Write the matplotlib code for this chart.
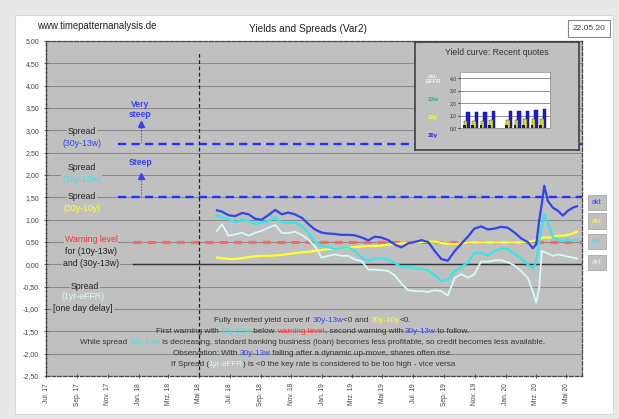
import matplotlib
matplotlib.use("Agg")
import matplotlib.pyplot as plt
import matplotlib.dates as mdates
import matplotlib.transforms as mtransforms
from matplotlib.patches import Rectangle
from matplotlib.ticker import MultipleLocator, FuncFormatter
import pandas as pd

plt.rcParams['font.family'] = ['Liberation Sans', 'DejaVu Sans']

# values (approx. every two weeks)
dates = [
    "2018-06-06", "2018-06-16", "2018-06-29", "2018-07-12", "2018-07-26", "2018-08-08", "2018-08-21",
    "2018-09-03", "2018-09-16", "2018-09-30", "2018-10-13", "2018-10-26", "2018-11-08", "2018-11-22",
    "2018-12-05", "2018-12-18", "2018-12-31", "2019-01-13", "2019-01-27", "2019-02-09", "2019-02-22",
    "2019-03-07", "2019-03-21", "2019-04-03", "2019-04-16", "2019-04-29", "2019-05-13", "2019-05-26",
    "2019-06-08", "2019-06-21", "2019-07-04", "2019-07-18", "2019-07-31", "2019-08-13", "2019-08-26",
    "2019-09-08", "2019-09-22", "2019-10-05", "2019-10-18", "2019-10-31", "2019-11-13", "2019-11-27",
    "2019-12-10", "2019-12-23", "2020-01-05", "2020-01-18", "2020-02-01", "2020-02-14", "2020-02-24",
    "2020-03-02", "2020-03-08", "2020-03-13", "2020-03-18", "2020-03-25", "2020-04-04", "2020-04-14",
    "2020-04-24", "2020-05-04", "2020-05-14", "2020-05-22",
]
spread_30y_13w = [
    1.21, 1.18, 1.10, 1.08, 1.15, 1.12, 1.02, 1.00, 1.10, 1.22,
    1.12, 1.16, 1.12, 1.04, 0.90, 0.78, 0.71, 0.69, 0.68, 0.66,
    0.66, 0.65, 0.60, 0.54, 0.62, 0.60, 0.54, 0.44, 0.38, 0.47,
    0.50, 0.54, 0.50, 0.30, 0.12, 0.08, 0.30, 0.46, 0.62, 0.80,
    0.85, 0.78, 0.80, 0.84, 0.82, 0.72, 0.58, 0.50, 0.36, 0.45,
    1.00, 1.35, 1.76, 1.42, 1.27, 1.20, 1.09, 1.20, 1.27, 1.30,
]
spread_10y_13w = [
    1.09, 1.05, 1.01, 0.94, 1.01, 0.97, 0.90, 0.94, 0.97, 1.05,
    0.94, 0.93, 0.94, 0.85, 0.70, 0.50, 0.41, 0.38, 0.35, 0.37,
    0.38, 0.30, 0.15, 0.08, 0.13, 0.13, 0.11, 0.03, -0.06, -0.06,
    -0.08, -0.10, -0.13, -0.24, -0.38, -0.35, -0.15, -0.06, 0.04, 0.25,
    0.26, 0.20, 0.30, 0.36, 0.34, 0.24, 0.13, 0.00, -0.10, 0.05,
    0.55, 0.85, 1.12, 0.94, 0.60, 0.56, 0.52, 0.56, 0.52, 0.56,
]
spread_30y_10y = [
    0.15, 0.14, 0.12, 0.12, 0.14, 0.16, 0.18, 0.19, 0.19, 0.20,
    0.21, 0.23, 0.25, 0.27, 0.28, 0.30, 0.32, 0.34, 0.36, 0.37,
    0.37, 0.39, 0.40, 0.41, 0.41, 0.42, 0.44, 0.45, 0.47, 0.48,
    0.49, 0.50, 0.51, 0.51, 0.48, 0.46, 0.45, 0.47, 0.49, 0.49,
    0.49, 0.49, 0.49, 0.49, 0.49, 0.49, 0.49, 0.50, 0.52, 0.55,
    0.57, 0.59, 0.60, 0.60, 0.61, 0.64, 0.64, 0.66, 0.69, 0.73,
]
spread_1y_effr = [
    0.75, 0.90, 0.64, 0.67, 0.71, 0.64, 0.71, 0.75, 0.82, 0.88,
    0.70, 0.70, 0.73, 0.66, 0.55, 0.40, 0.15, 0.19, 0.22, 0.19,
    0.19, 0.11, 0.07, -0.12, -0.12, -0.13, -0.15, -0.25, -0.43, -0.58,
    -0.60, -0.60, -0.62, -0.58, -0.60, -0.70, -0.30, -0.22, -0.30, -0.22,
    0.06, 0.06, 0.09, 0.09, 0.05, -0.02, -0.15, -0.30, -0.60, -0.86,
    -0.52, 0.30, 0.28, 0.24, 0.19, 0.22, 0.20, 0.17, 0.15, 0.13,
]

# inset: recent yield curve quotes
inset_positions = [0, 1, 2, 3, 5, 6, 7, 8, 9]
inset_back = [1.3, 1.3, 1.3, 1.35, 1.35, 1.4, 1.4, 1.45, 1.5]
inset_front = [0.6, 0.6, 0.6, 0.65, 0.65, 0.65, 0.7, 0.7, 0.75]
inset_labels = [("akt.\nEFFR", "#ccffff"), ("13w", "#33aa77"), ("10y", "#ffff00"), ("30y", "#2222ee")]

month_names = {1: "Jan.", 3: "Mrz.", 5: "Mai", 7: "Jul.", 9: "Sep.", 11: "Nov."}

BLUE = "#3344ee"
CYAN = "#33e8e8"
YELLOW = "#ffff33"
LCYAN = "#d4fafa"
RED = "#ff3333"
GRAY = "#c0c0c0"


def centered_parts(ax, fig, xfrac, y, parts, size, trans):
    # draw one line of text made of several coloured pieces, centred on xfrac
    r = fig.canvas.get_renderer()

    def width(s):
        t = ax.text(0, 0, s, fontsize=size)
        w = t.get_window_extent(renderer=r).width
        t.remove()
        return w

    dot = width(".")
    full = "".join(p for p, _ in parts)
    start = -(width(full + ".") - dot) / 2
    prefix = ""
    for s, c in parts:
        off = start + ((width(prefix + ".") - dot) if prefix else 0)
        tr = mtransforms.offset_copy(trans, fig=fig, x=off * 72 / fig.dpi, y=0, units="points")
        ax.text(xfrac, y, s, color=c, fontsize=size, ha="left", va="center", transform=tr)
        prefix += s


def main():
    fig = plt.figure(figsize=(6.19, 4.19), dpi=100, facecolor="#e8e8e8")
    fig.patches.append(Rectangle((15 / 619, 5 / 419), 598 / 619, 399 / 419, transform=fig.transFigure,
                                 facecolor="white", edgecolor="#d8d8d8", lw=0.8, zorder=-10))

    ax = fig.add_axes([46 / 619, 43 / 419, 536 / 619, 335 / 419], facecolor=GRAY)
    x = pd.to_datetime(dates)

    ax.set_ylim(-2.5, 5.0)
    ax.set_xlim(pd.Timestamp("2017-07-01"), pd.Timestamp("2020-06-01"))
    ax.yaxis.set_major_locator(MultipleLocator(0.5))
    ax.yaxis.set_minor_locator(MultipleLocator(0.1))
    ax.yaxis.set_major_formatter(FuncFormatter(lambda v, _: f"{v:.2f}".replace(".", ",")))
    ax.grid(axis="y", color="#8a8a8a", lw=0.8)
    ax.set_axisbelow(True)
    ax.tick_params(axis="y", labelsize=5, colors="#444444", length=3, direction="inout", width=0.6)
    ax.tick_params(axis="y", which="minor", length=1.5, direction="inout", width=0.5, color="#444444")

    ax.xaxis.set_major_locator(mdates.MonthLocator(bymonth=[1, 3, 5, 7, 9, 11]))
    ax.xaxis.set_major_formatter(FuncFormatter(
        lambda v, _: f"{month_names[mdates.num2date(v).month]} {mdates.num2date(v).year % 100:02d}"))
    ax.tick_params(axis="x", labelsize=4.8, colors="#444444", rotation=90, length=3,
                   direction="inout", width=0.6)

    for side in ["top", "right", "bottom"]:
        ax.spines[side].set_linestyle((0, (3, 1.5)))
        ax.spines[side].set_color("#444444")
        ax.spines[side].set_linewidth(0.9)
    ax.spines["left"].set_color("#444444")
    ax.spines["left"].set_linewidth(0.9)

    # reference levels
    ax.axhline(2.7, xmin=72 / 536, color="#2233ff", lw=1.7, ls=(0, (3.5, 2.2)))
    ax.axhline(1.5, xmin=72 / 536, color="#2233ff", lw=1.7, ls=(0, (3.5, 2.2)))
    ax.axhline(0.5, xmin=87 / 536, color="#ff6666", lw=2.3, ls=(0, (2.5, 2)))
    ax.axhline(0.0, xmin=87 / 536, color="#333333", lw=1.0)
    ax.plot([pd.Timestamp("2018-05-01")] * 2, [-2.5, 4.76], color="#222222", lw=0.9, ls=(0, (3, 2)))

    # series
    ax.plot(x, spread_1y_effr, color=LCYAN, lw=1.3)
    ax.plot(x, spread_30y_10y, color=YELLOW, lw=1.6)
    ax.plot(x, spread_10y_13w, color=CYAN, lw=1.6)
    ax.plot(x, spread_30y_13w, color=BLUE, lw=1.6)

    # steepness arrows
    arrow_x = pd.Timestamp("2018-01-05")
    ax.plot([arrow_x] * 2, [2.72, 3.08], color=BLUE, lw=0.8, ls=":")
    ax.plot([arrow_x], [3.15], marker="^", color=BLUE, ms=4)
    ax.plot([arrow_x] * 2, [1.52, 1.9], color=BLUE, lw=0.8, ls=":")
    ax.plot([arrow_x], [1.97], marker="^", color=BLUE, ms=4)
    ax.text(arrow_x, 3.46, "Very\nsteep", color=BLUE, fontsize=6.2, ha="center", va="center",
            fontweight="bold", linespacing=1.1)
    ax.text(arrow_x, 2.29, "Steep", color=BLUE, fontsize=6.2, ha="center", va="center", fontweight="bold")

    # left side labels
    tr = mtransforms.blended_transform_factory(ax.transAxes, ax.transData)
    box = dict(facecolor=GRAY, edgecolor="none", pad=0.6)
    left_labels = [
        (0.067, 2.97, "Spread", "#222222"), (0.067, 2.70, "(30y-13w)", BLUE),
        (0.067, 2.16, "Spread", "#222222"), (0.067, 1.91, "(10y-13w)", CYAN),
        (0.067, 1.51, "Spread", "#222222"), (0.067, 1.26, "(30y-10y)", YELLOW),
        (0.084, 0.56, "Warning level", RED), (0.084, 0.29, "for (10y-13w)", "#222222"),
        (0.084, 0.02, "and (30y-13w)", "#222222"),
        (0.072, -0.49, "Spread", "#222222"), (0.069, -0.72, "(1yr-eFFR)", LCYAN),
        (0.069, -0.99, "[one day delay]", "#222222"),
    ]
    for lx, ly, s, c in left_labels:
        ax.text(lx, ly, s, color=c, fontsize=6.3, ha="center", va="center", transform=tr, bbox=box)

    # right side end labels
    for ly, c in [(1.39, BLUE), (0.97, YELLOW), (0.52, CYAN), (0.04, LCYAN)]:
        ax.text(1.028, ly, "akt", color=c, fontsize=5.3, ha="center", va="center", transform=tr,
                clip_on=False, bbox=dict(boxstyle="square,pad=0.55", facecolor=GRAY, edgecolor="#a8a8a8", lw=0.6))

    # explanation block
    k = "#333333"
    lines = [
        (-1.26, [("Fully inverted yield curve if ", k), ("30y-13w", BLUE), ("<0 and ", k),
                 ("30y-10y", YELLOW), ("<0.", k)]),
        (-1.51, [("First warning with ", k), ("10y-13w", CYAN), (" below ", k), ("warning level", RED),
                 (", second warning with ", k), ("30y-13w", BLUE), (" to follow.", k)]),
        (-1.75, [("While spread ", k), ("10y-13w", CYAN),
                 (" is decreasing, standard banking business (loan) becomes less profitable, "
                  "so credit becomes less available.", k)]),
        (-2.00, [("Observation: With ", k), ("30y-13w", BLUE),
                 (" falling after a dynamic up-move, shares often rise.", k)]),
        (-2.25, [("If Spread (", k), ("1yr-eFFR", LCYAN),
                 (") is <0 the key rate is considered to be too high - vice versa", k)]),
    ]
    for ly, parts in lines:
        centered_parts(ax, fig, 0.498, ly, parts, 5.9, tr)

    # header
    fig.text(97 / 619, 1 - 26 / 419, "www.timepatternanalysis.de", fontsize=6.9, ha="center", va="center",
             color="#222222")
    fig.text(308 / 619, 1 - 29 / 419, "Yields and Spreads (Var2)", fontsize=7.3, ha="center", va="center",
             color="#222222")
    fig.text(589 / 619, 1 - 28.5 / 419, "22.05.20", fontsize=6, ha="center", va="center", color="#444444",
             bbox=dict(boxstyle="square,pad=0.6", facecolor="white", edgecolor="#888888", lw=0.8))

    # inset: yield curve recent quotes
    ins = fig.add_axes([415 / 619, 269 / 419, 164 / 619, 108 / 419], facecolor=GRAY)
    ins.set_xticks([])
    ins.set_yticks([])
    for sp in ins.spines.values():
        sp.set_color("#404040")
        sp.set_linewidth(1.2)
    ins.text(0.5, 0.9, "Yield curve: Recent quotes", fontsize=6.2, ha="center", va="center",
             color="#333333", transform=ins.transAxes)
    for i, (s, c) in enumerate(inset_labels):
        ins.text(0.11, 0.66 - i * 0.17 - (0.02 if i else 0), s, fontsize=4.3, color=c, ha="center",
                 va="center", transform=ins.transAxes, fontweight="bold", linespacing=1.0)

    inner = fig.add_axes([460 / 619, 291 / 419, 90 / 619, 56 / 419], facecolor="white")
    inner.set_ylim(0, 4.5)
    inner.set_xlim(-0.8, 9.8)
    inner.set_yticks([0, 1, 2, 3, 4])
    inner.yaxis.set_major_formatter(FuncFormatter(lambda v, _: f"{v:.1f}".replace(".", ",")))
    inner.tick_params(axis="y", labelsize=3.6, length=1.5, pad=1, colors="#333333")
    inner.set_xticks([])
    inner.grid(axis="y", color="#666666", lw=0.5)
    inner.set_axisbelow(True)
    for sp in inner.spines.values():
        sp.set_color("#888888")
        sp.set_linewidth(0.5)
    inner.bar([p + 0.15 for p in inset_positions], inset_back, width=0.45, color="#1a1aee",
              edgecolor="#000066", lw=0.3)
    inner.bar([p - 0.15 for p in inset_positions], inset_front, width=0.45, color="#dddd22",
              edgecolor="#333300", lw=0.3)
    inner.bar([p - 0.3 for p in inset_positions], [0.25] * len(inset_positions), width=0.3, color="#222222")

    fig.savefig("out.png", dpi=100, facecolor=fig.get_facecolor())
    plt.close(fig)


if __name__ == "__main__":
    main()
